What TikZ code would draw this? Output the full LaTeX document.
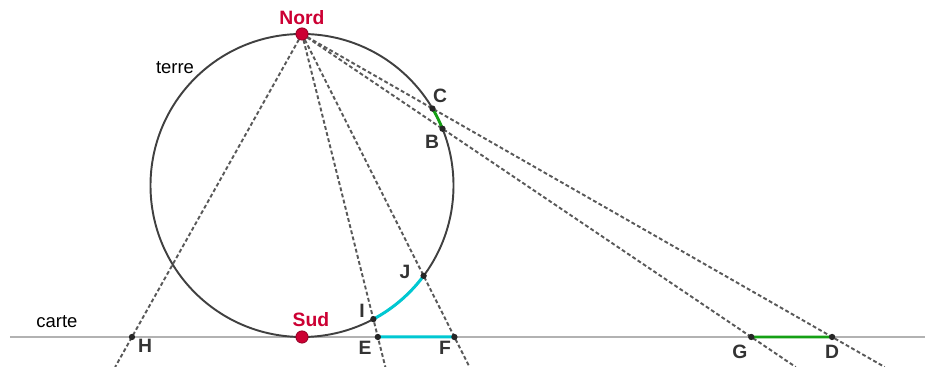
\documentclass[tikz,border=0pt]{standalone}
\usepackage{fontspec}
\setmainfont{Liberation Sans}
\usetikzlibrary{calc}

\definecolor{crimson}{RGB}{204,0,51}
\definecolor{turq}{RGB}{0,200,210}
\definecolor{mapgreen}{RGB}{20,160,20}

\begin{document}
\begin{tikzpicture}[
    ray/.style={draw=black!65, line width=1.1pt, dash pattern=on 2.2pt off 1.4pt},
    earth/.style={draw=black!75, line width=1.1pt},
    mapline/.style={draw=black!30, line width=1.2pt},
    arcgreen/.style={draw=mapgreen, line width=1.6pt},
    arccyan/.style={draw=turq, line width=1.7pt},
    pt/.style={circle, fill=black!85, inner sep=0pt, minimum size=3.6pt},
    pole/.style={circle, fill=crimson, draw=crimson!70!black, inner sep=0pt, minimum size=7pt},
    lbl/.style={font=\fontsize{11}{13}\selectfont\bfseries, text=black!80, inner sep=0pt},
    tag/.style={font=\fontsize{10.5}{12}\selectfont, text=black, inner sep=0pt}
  ]
  \useasboundingbox (0,0) rectangle (18.5,7.34);

  % earth and map
  \coordinate (O) at (6.04,3.63);
  \coordinate (N) at (6.04,6.66);
  \coordinate (S) at (6.04,0.60);
  \coordinate (cL) at (0.2,0.60);
  \coordinate (cR) at (18.5,0.60);
  \coordinate (bL) at (0,0);
  \coordinate (bR) at (18.5,0);

  % points on the circle
  \coordinate (C) at ($(O)+(30.5:3.03)$);
  \coordinate (B) at ($(O)+(22:3.03)$);
  \coordinate (J) at ($(O)+(-36.6:3.03)$);
  \coordinate (I) at ($(O)+(-61.9:3.03)$);
  \coordinate (K) at ($(O)+(-148.6:3.03)$);

  % their images on the map
  \coordinate (D) at (intersection of N--C and cL--cR);
  \coordinate (G) at (intersection of N--B and cL--cR);
  \coordinate (F) at (intersection of N--J and cL--cR);
  \coordinate (E) at (intersection of N--I and cL--cR);
  \coordinate (H) at (intersection of N--K and cL--cR);

  % ends of the rays
  \coordinate (endC) at (intersection of N--C and bL--bR);
  \coordinate (endB) at (intersection of N--B and bL--bR);
  \coordinate (endJ) at (intersection of N--J and bL--bR);
  \coordinate (endI) at (intersection of N--I and bL--bR);
  \coordinate (endK) at (intersection of N--K and bL--bR);

  \draw[mapline] (cL) -- (cR);
  \foreach \p in {C,B,J,I,K}
    \draw[ray] (N) -- (end\p);
  \draw[earth] (O) circle[radius=3.03];

  \draw[arcgreen] (B) arc[start angle=22, end angle=30.5, radius=3.03];
  \draw[arccyan] (I) arc[start angle=-61.9, end angle=-36.6, radius=3.03];
  \draw[arcgreen] (G) -- (D);
  \draw[arccyan] (E) -- (F);

  \foreach \p in {C,B,J,I,D,G,E,F,H}
    \node[pt] (pt\p) at (\p) {};
  \node[pole] (nord) at (N) {};
  \node[pole] (sud) at (S) {};

  % labels
  \node[lbl, text=crimson] (lnord) at (6.04,6.98) {Nord};
  \node[lbl, text=crimson] (lsud) at (6.22,0.94) {Sud};
  \node[tag] (terre) at (3.5,5.98) {terre};
  \node[tag] (carte) at (1.14,0.90) {carte};
  \node[lbl] (lC) at (8.8,5.42) {C};
  \node[lbl] (lB) at (8.64,4.5) {B};
  \node[lbl] (lJ) at (8.1,1.9) {J};
  \node[lbl] (lI) at (7.24,1.12) {I};
  \node[lbl] (lE) at (7.3,0.38) {E};
  \node[lbl] (lF) at (8.9,0.38) {F};
  \node[lbl] (lG) at (14.8,0.30) {G};
  \node[lbl] (lD) at (16.64,0.30) {D};
  \node[lbl] (lH) at (2.9,0.42) {H};
\end{tikzpicture}
\end{document}
